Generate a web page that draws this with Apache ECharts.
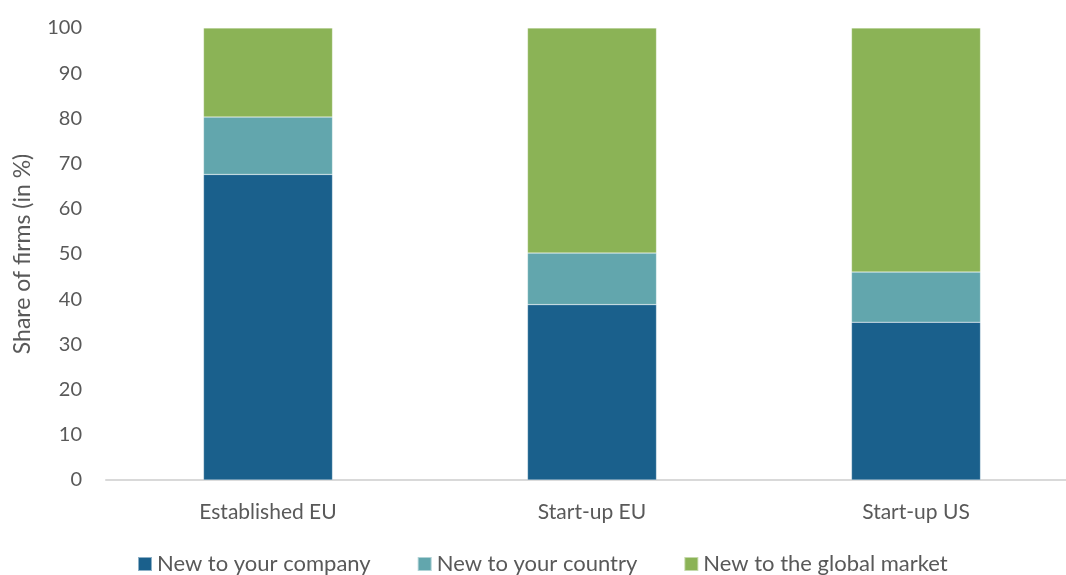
<!DOCTYPE html>
<html>
<head>
    <meta charset="utf-8">
    <title>Share of firms</title>
    <script src="https://cdn.jsdelivr.net/npm/echarts@6/dist/echarts.min.js"></script>
    <style>
        html, body { margin: 0; padding: 0; background: #ffffff; }
        #chart { width: 1066px; height: 575px; }
    </style>
</head>
<body>
    <div id="chart"></div>
    <script type="text/javascript">
        // data
        const categories = ['Established EU', 'Start-up EU', 'Start-up US'];
        const seriesNames = ['New to your company', 'New to your country', 'New to the global market'];
        const newToCompany = [67.6, 38.8, 34.9];
        const newToCountry = [12.7, 11.4, 11.1];
        const newToGlobal = [19.7, 49.8, 54.0];
        const colors = ['#1a608c', '#62a6ad', '#8bb356'];

        const font = 'Lato, "Open Sans", sans-serif';
        const chart = echarts.init(document.getElementById('chart'));

        function bar(name, data, color) {
            return {
                name: name,
                type: 'bar',
                stack: 'total',
                data: data,
                barWidth: 129,
                itemStyle: { color: color, borderColor: 'rgba(255,255,255,0.5)', borderWidth: 0.5 }
            };
        }

        chart.setOption({
            animation: false,
            textStyle: { fontFamily: font },
            // plot runs a bit past the right edge, like the original
            grid: { left: 106, width: 972, top: 28, bottom: 95, outerBoundsMode: 'none' },
            legend: {
                bottom: -5,
                left: 132,
                itemWidth: 14,
                itemHeight: 14,
                itemGap: 46,
                icon: 'rect',
                textStyle: { fontSize: 22, color: '#595959', fontFamily: font },
                data: seriesNames
            },
            xAxis: {
                type: 'category',
                data: categories,
                axisLine: { lineStyle: { color: '#d9d9d9', width: 2 } },
                axisTick: { show: false },
                axisLabel: { fontSize: 21, color: '#595959', margin: 22 }
            },
            yAxis: {
                type: 'value',
                min: 0,
                max: 100,
                interval: 10,
                name: 'Share of firms (in %)',
                nameLocation: 'middle',
                nameGap: 72,
                nameTextStyle: { fontSize: 23, color: '#595959' },
                splitLine: { show: false },
                axisLine: { show: false },
                axisTick: { show: false },
                axisLabel: { fontSize: 20, color: '#595959', margin: 24 }
            },
            series: [
                bar(seriesNames[0], newToCompany, colors[0]),
                bar(seriesNames[1], newToCountry, colors[1]),
                bar(seriesNames[2], newToGlobal, colors[2])
            ]
        });
    </script>
</body>
</html>
